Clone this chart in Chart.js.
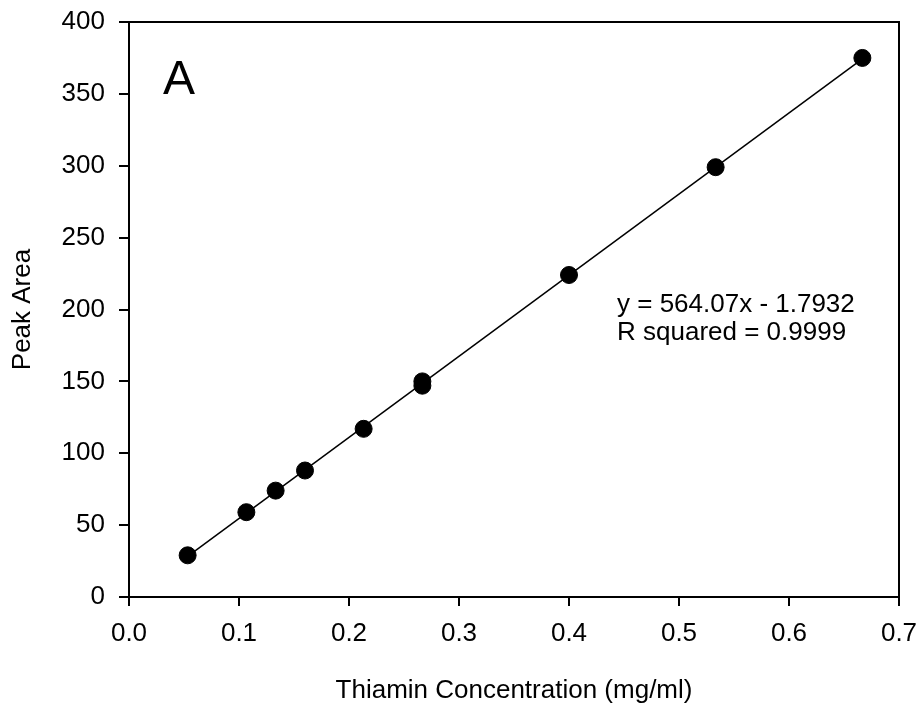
<!DOCTYPE html>
<html>
<head>
<meta charset="utf-8">
<script src="https://cdn.jsdelivr.net/npm/chart.js@4.4.0/dist/chart.umd.min.js"></script>
<style>
  html, body { margin: 0; padding: 0; background: #fff; }
  #wrap { width: 919px; height: 706px; }
</style>
</head>
<body>
<div id="wrap"><canvas id="courbe"></canvas></div>
<script>
// Données
var concentrations = [0.0533, 0.1067, 0.1333, 0.16, 0.2133, 0.2667, 0.2667, 0.4, 0.5333, 0.6667];
var peakAreas = [29, 59, 74, 88, 117, 150, 147, 224, 299, 375];
// Droite de régression (extrémités)
var fitX = [0.0533, 0.6667];
var fitY = [28.3, 374.3];
var xTicks = [0, 0.1, 0.2, 0.3, 0.4, 0.5, 0.6, 0.7];
var yTicks = [0, 50, 100, 150, 200, 250, 300, 350, 400];
var equationText = ['y = 564.07x - 1.7932', 'R squared = 0.9999'];
var panelLabel = 'A';

var police = "'Liberation Sans', Arial, sans-serif";

// Cadre + textes
var cadre = {
    id: 'cadre',
    afterDraw: function(chart) {
        var ctx = chart.ctx;
        var a = chart.chartArea;
        ctx.save();
        ctx.strokeStyle = '#000';
        ctx.lineWidth = 2;
        ctx.beginPath();
        ctx.moveTo(a.left, a.top);
        ctx.lineTo(a.right, a.top);
        ctx.lineTo(a.right, a.bottom + 9);
        ctx.stroke();
        ctx.fillStyle = '#000';
        ctx.textBaseline = 'middle';
        ctx.font = '48px ' + police;
        ctx.fillText(panelLabel, a.left + 34, a.top + 59);
        ctx.font = '26px ' + police;
        ctx.fillText(equationText[0], a.left + 488, a.top + 283);
        ctx.fillText(equationText[1], a.left + 488, a.top + 311);
        ctx.restore();
    }
};

var config = {
    type: 'scatter',
    data: {
        datasets: [{
            label: 'Fit',
            type: 'line',
            data: fitX.map(function(x, i) { return { x: x, y: fitY[i] }; }),
            borderColor: '#000',
            borderWidth: 1.5,
            pointRadius: 0,
            fill: false,
            order: 2
        }, {
            label: 'Peak Area',
            data: concentrations.map(function(x, i) { return { x: x, y: peakAreas[i] }; }),
            backgroundColor: '#000',
            borderColor: '#000',
            pointRadius: 8.5,
            order: 1
        }]
    },
    options: {
        responsive: true,
        maintainAspectRatio: false,
        animation: false,
        layout: { padding: { left: 0, right: 20, top: 22, bottom: 0 } },
        plugins: {
            legend: { display: false },
            tooltip: { enabled: false }
        },
        scales: {
            x: {
                type: 'linear',
                min: 0,
                max: 0.7,
                afterBuildTicks: function(scale) {
                    scale.ticks = xTicks.map(function(v) { return { value: v }; });
                },
                afterFit: function(scale) {
                    scale.height = 109;
                    scale.paddingLeft = 0;
                    scale.paddingRight = 0;
                },
                ticks: {
                    color: '#000',
                    font: { size: 26, family: police },
                    padding: 12,
                    maxRotation: 0,
                    callback: function(v) { return Number(v).toFixed(1); }
                },
                grid: {
                    drawOnChartArea: false,
                    color: '#000',
                    lineWidth: 2,
                    tickLength: 9
                },
                border: { color: '#000', width: 2 },
                title: {
                    display: true,
                    text: 'Thiamin Concentration (mg/ml)',
                    color: '#000',
                    font: { size: 26, family: police },
                    padding: { top: 0, bottom: 0 }
                }
            },
            y: {
                min: 0,
                max: 400,
                afterBuildTicks: function(scale) {
                    scale.ticks = yTicks.map(function(v) { return { value: v }; });
                },
                afterFit: function(scale) {
                    scale.width = 129;
                    scale.paddingTop = 0;
                    scale.paddingBottom = 0;
                },
                ticks: {
                    color: '#000',
                    font: { size: 26, family: police },
                    padding: 14
                },
                grid: {
                    drawOnChartArea: false,
                    color: '#000',
                    lineWidth: 2,
                    tickLength: 10
                },
                border: { color: '#000', width: 2 },
                title: {
                    display: true,
                    text: 'Peak Area',
                    color: '#000',
                    font: { size: 26, family: police },
                    padding: { top: 7, bottom: 0 }
                }
            }
        }
    },
    plugins: [cadre]
};

new Chart(document.getElementById('courbe').getContext('2d'), config);
</script>
</body>
</html>
